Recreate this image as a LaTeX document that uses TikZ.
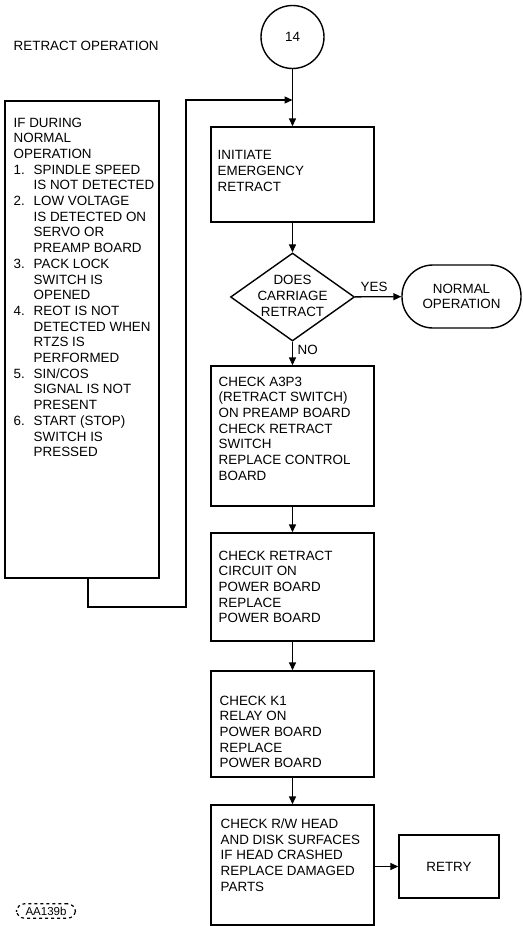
\documentclass[tikz,border=0pt]{standalone}
\usepackage{fontspec}
\setmainfont{Liberation Sans}
\usetikzlibrary{arrows.meta,shapes.geometric}
\newcommand\numlbl[1]{\makebox[20pt][l]{#1}}
\begin{document}
\begin{tikzpicture}[x=1pt,y=-1pt,
  line width=1.4pt,
  fnt/.style={font=\fontsize{13.4}{15.7}\selectfont},
  txt/.style={fnt, inner sep=0pt, anchor=north west, align=left},
  box/.style={draw, rectangle, minimum width=163pt, minimum height=#1, inner sep=0pt},
  arr/.style={-{Triangle[length=8pt,width=7pt]}},
]
\useasboundingbox (0,0) rectangle (522,926);

% title and connector circle
\node[txt] (title) at (13,40) {RETRACT OPERATION};
\node[draw, circle, minimum size=63pt, inner sep=0pt, fnt] (c14) at (292.5,37) {14};

% left condition box
\node[box=477pt, minimum width=154pt] (cond) at (82,339.5) {};
\node[txt] (condtxt) at (13,117) {IF DURING\\
NORMAL\\
OPERATION\\
\numlbl{1.}SPINDLE SPEED\\
\numlbl{}IS NOT DETECTED\\
\numlbl{2.}LOW VOLTAGE\\
\numlbl{}IS DETECTED ON\\
\numlbl{}SERVO OR\\
\numlbl{}PREAMP BOARD\\
\numlbl{3.}PACK LOCK\\
\numlbl{}SWITCH IS\\
\numlbl{}OPENED\\
\numlbl{4.}REOT IS NOT\\
\numlbl{}DETECTED WHEN\\
\numlbl{}RTZS IS\\
\numlbl{}PERFORMED\\
\numlbl{5.}SIN/COS\\
\numlbl{}SIGNAL IS NOT\\
\numlbl{}PRESENT\\
\numlbl{6.}START (STOP)\\
\numlbl{}SWITCH IS\\
\numlbl{}PRESSED};

% right column
\node[box=95pt] (b1) at (292.5,174.5) {};
\node[txt] (b1txt) at (217,150) {INITIATE\\EMERGENCY\\RETRACT};

\node[draw, diamond, minimum width=124pt, minimum height=88pt, inner sep=0pt] (dec) at (292.5,297) {};
\node[fnt, align=center, inner sep=0pt] (dectxt) at (292.5,296) {DOES\\CARRIAGE\\RETRACT};

\node[draw, rounded corners=31pt, minimum width=119pt, minimum height=63pt, align=center, fnt] (norm) at (461.5,296.5) {NORMAL\\OPERATION};

\node[box=140pt] (b2) at (292.5,436) {};
\node[txt] (b2txt) at (218,376) {CHECK A3P3\\(RETRACT SWITCH)\\ON PREAMP BOARD\\CHECK RETRACT\\SWITCH\\REPLACE CONTROL\\BOARD};

\node[box=108pt] (b3) at (292.5,587) {};
\node[txt] (b3txt) at (218,550) {CHECK RETRACT\\CIRCUIT ON\\POWER BOARD\\REPLACE\\POWER BOARD};

\node[box=106pt] (b4) at (292.5,724) {};
\node[txt] (b4txt) at (219,695) {CHECK K1\\RELAY ON\\POWER BOARD\\REPLACE\\POWER BOARD};

\node[box=120pt] (b5) at (292.5,865) {};
\node[txt] (b5txt) at (220,818) {CHECK R/W HEAD\\AND DISK SURFACES\\IF HEAD CRASHED\\REPLACE DAMAGED\\PARTS};

\node[box=63pt, minimum width=100pt, fnt] (retry) at (449,866.5) {RETRY};

\node[draw, dashed, rounded corners=8pt, font=\fontsize{11.5}{13}\selectfont, inner xsep=9pt, inner ysep=3pt, line width=1.2pt] (aa) at (46,911) {AA139b};

% labels
\node[txt, anchor=south west] (yes) at (360,292) {YES};
\node[txt] (no) at (297,344) {NO};

% connectors
\coordinate (j1) at (292.5,100);
\coordinate (lp) at (186,607);
\draw[arr] (c14) -- (b1);
\draw[arr] ([xshift=6pt]cond.south) |- (lp) |- (j1);
\draw[arr] (b1) -- (dec);
\draw[arr] (dec) -- (norm);
\draw[arr] (dec) -- (b2);
\draw[arr] (b2) -- (b3);
\draw[arr] (b3) -- (b4);
\draw[arr] (b4) -- (b5);
\draw[arr] (b5.east |- retry.west) -- (retry.west);
\end{tikzpicture}
\end{document}
